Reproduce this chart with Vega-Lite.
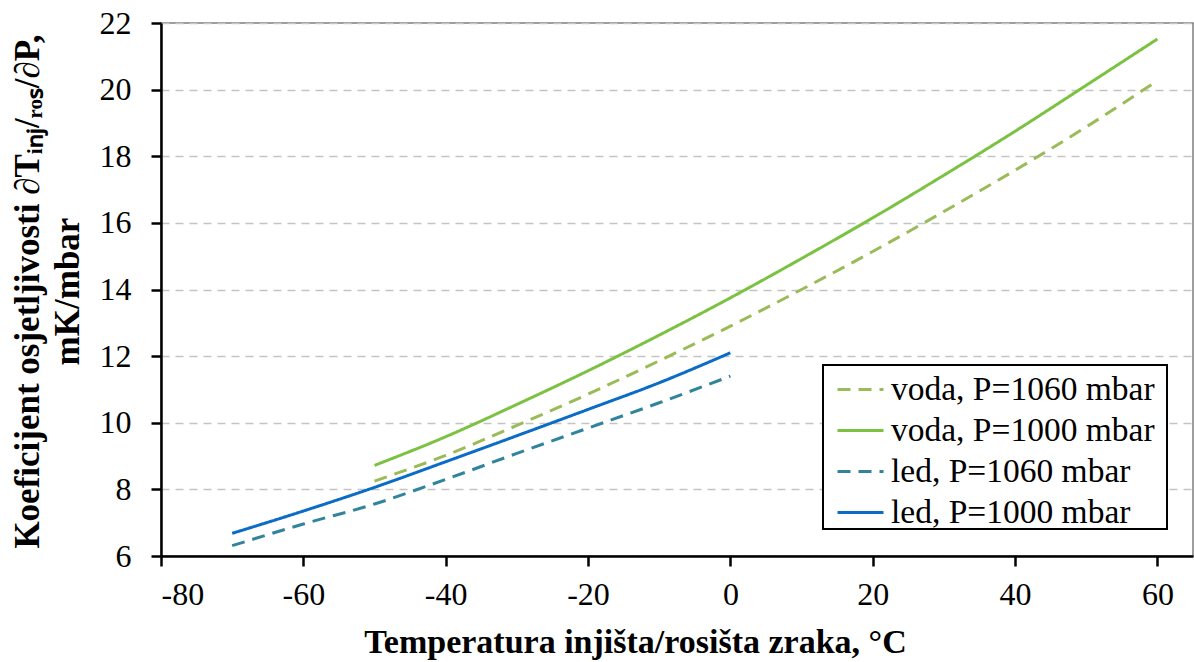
{
  "$schema": "https://vega.github.io/schema/vega-lite/v6.json",
  "autosize": {"type": "none"},
  "width": 1032,
  "height": 533,
  "padding": {"left": 161, "top": 23, "right": 1, "bottom": 106},
  "background": "white",
  "data": {"values": [
    {"series": "voda, P=1060 mbar", "t": -50, "k": 8.25},
    {"series": "voda, P=1060 mbar", "t": -40, "k": 9.02},
    {"series": "voda, P=1060 mbar", "t": -30, "k": 9.92},
    {"series": "voda, P=1060 mbar", "t": -20, "k": 10.86},
    {"series": "voda, P=1060 mbar", "t": -10, "k": 11.86},
    {"series": "voda, P=1060 mbar", "t": 0, "k": 12.9},
    {"series": "voda, P=1060 mbar", "t": 10, "k": 14.0},
    {"series": "voda, P=1060 mbar", "t": 20, "k": 15.14},
    {"series": "voda, P=1060 mbar", "t": 30, "k": 16.34},
    {"series": "voda, P=1060 mbar", "t": 40, "k": 17.58},
    {"series": "voda, P=1060 mbar", "t": 50, "k": 18.88},
    {"series": "voda, P=1060 mbar", "t": 60, "k": 20.27},
    {"series": "voda, P=1000 mbar", "t": -50, "k": 8.72},
    {"series": "voda, P=1000 mbar", "t": -40, "k": 9.58},
    {"series": "voda, P=1000 mbar", "t": -30, "k": 10.55},
    {"series": "voda, P=1000 mbar", "t": -20, "k": 11.56},
    {"series": "voda, P=1000 mbar", "t": -10, "k": 12.63},
    {"series": "voda, P=1000 mbar", "t": 0, "k": 13.75},
    {"series": "voda, P=1000 mbar", "t": 10, "k": 14.93},
    {"series": "voda, P=1000 mbar", "t": 20, "k": 16.15},
    {"series": "voda, P=1000 mbar", "t": 30, "k": 17.43},
    {"series": "voda, P=1000 mbar", "t": 40, "k": 18.75},
    {"series": "voda, P=1000 mbar", "t": 50, "k": 20.13},
    {"series": "voda, P=1000 mbar", "t": 60, "k": 21.52},
    {"series": "led, P=1060 mbar", "t": -70, "k": 6.31},
    {"series": "led, P=1060 mbar", "t": -60, "k": 6.96},
    {"series": "led, P=1060 mbar", "t": -50, "k": 7.56},
    {"series": "led, P=1060 mbar", "t": -40, "k": 8.3},
    {"series": "led, P=1060 mbar", "t": -30, "k": 9.08},
    {"series": "led, P=1060 mbar", "t": -20, "k": 9.84},
    {"series": "led, P=1060 mbar", "t": -10, "k": 10.6},
    {"series": "led, P=1060 mbar", "t": 0, "k": 11.4},
    {"series": "led, P=1000 mbar", "t": -70, "k": 6.68},
    {"series": "led, P=1000 mbar", "t": -60, "k": 7.35},
    {"series": "led, P=1000 mbar", "t": -50, "k": 8.06},
    {"series": "led, P=1000 mbar", "t": -40, "k": 8.83},
    {"series": "led, P=1000 mbar", "t": -30, "k": 9.61},
    {"series": "led, P=1000 mbar", "t": -20, "k": 10.4},
    {"series": "led, P=1000 mbar", "t": -10, "k": 11.2},
    {"series": "led, P=1000 mbar", "t": 0, "k": 12.1}
  ]},
  "mark": {"type": "line", "strokeWidth": 3, "interpolate": "monotone"},
  "encoding": {
    "x": {
      "field": "t", "type": "quantitative",
      "scale": {"domain": [-80, 65], "nice": false, "zero": false},
      "axis": {
        "values": [-80, -60, -40, -20, 0, 20, 40, 60],
        "labelExpr": "'' + datum.value",
        "grid": false,
        "title": "Temperatura injišta/rosišta zraka, °C",
        "titleX": 474, "titleY": 96,
        "titleAlign": "center", "titleBaseline": "alphabetic",
        "labelPadding": 13
      }
    },
    "y": {
      "field": "k", "type": "quantitative",
      "scale": {"domain": [6, 22], "nice": false, "zero": false},
      "axis": {
        "values": [6, 8, 10, 12, 14, 16, 18, 20, 22],
        "labelExpr": "'' + datum.value",
        "grid": true,
        "gridColor": "#c4c4c4", "gridDash": [8, 6], "gridWidth": 1.5,
        "title": ["Koeficijent osjetljivosti ∂Tᵢₙⱼ/ᵣₒₛ/∂P,", "mK/mbar"],
        "titleAngle": 270,
        "titleX": -123, "titleY": 268,
        "titleFontSize": 35,
        "titleAlign": "center", "titleBaseline": "alphabetic",
        "titleLineHeight": 40,
        "labelPadding": 20
      }
    },
    "color": {
      "field": "series", "type": "nominal",
      "scale": {
        "domain": ["voda, P=1060 mbar", "voda, P=1000 mbar", "led, P=1060 mbar", "led, P=1000 mbar"],
        "range": ["#9bbb59", "#7cc242", "#31849b", "#0a6cc4"]
      },
      "legend": {
        "title": " ",
        "titleOrient": "right",
        "titlePadding": 12,
        "titleFontSize": 2,
        "orient": "none",
        "legendX": 662, "legendY": 342,
        "padding": 0,
        "rowPadding": -4.5,
        "symbolType": "stroke",
        "symbolSize": 2116,
        "symbolStrokeWidth": 3,
        "symbolOffset": 13,
        "labelOffset": 6,
        "labelFont": "Liberation Serif",
        "labelFontSize": 33.5,
        "labelColor": "black",
        "labelLimit": 400,
        "strokeColor": "black",
        "fillColor": "white"
      }
    },
    "strokeDash": {
      "field": "series", "type": "nominal",
      "scale": {
        "domain": ["voda, P=1060 mbar", "voda, P=1000 mbar", "led, P=1060 mbar", "led, P=1000 mbar"],
        "range": [[13, 8], [1, 0], [13, 8], [1, 0]]
      },
      "legend": null
    }
  },
  "config": {
    "view": {"stroke": "#7f7f7f", "strokeWidth": 1.5},
    "legend": {"strokeWidth": 2},
    "axis": {
      "domainColor": "black", "domainWidth": 2.5,
      "tickColor": "black", "tickWidth": 2.5, "tickSize": 10,
      "labelFont": "Liberation Serif", "labelFontSize": 32, "labelColor": "black",
      "titleFont": "Liberation Serif", "titleFontSize": 34, "titleFontWeight": "bold", "titleColor": "black"
    }
  }
}
